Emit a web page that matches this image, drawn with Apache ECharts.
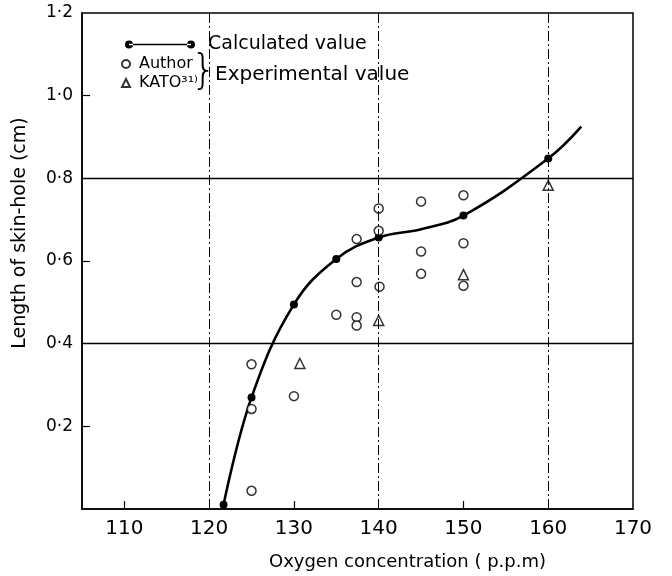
<!DOCTYPE html>
<html><head><meta charset="utf-8">
<script src="https://cdn.jsdelivr.net/npm/echarts@6/dist/echarts.min.js"></script>
<style>html,body{margin:0;padding:0;background:#fff}#c{width:672px;height:576px}</style>
</head><body><div id="c"></div>
<script>
// Calculated value (filled dots on curve)
const calcPoints = [[121.7,0.01],[125,0.27],[130,0.495],[135,0.605],[140,0.657],[150,0.71],[160,0.848]];
// Extra points (no marker)
const curveTrace = [[145,0.677],[163.9,0.925]];
// Experimental: Author (open circles)
const authorPoints = [[125,0.35],[125,0.242],[125,0.044],[130,0.273],[135,0.47],
  [137.4,0.653],[137.4,0.549],[137.4,0.464],[137.4,0.444],
  [140,0.727],[140,0.673],[140.1,0.538],
  [145,0.744],[145,0.623],[145,0.569],
  [150,0.759],[150,0.643],[150,0.54]];
// Experimental: KATO (open triangles)
const katoPoints = [[130.7,0.352],[140,0.456],[150,0.567],[160,0.783]];
// Axis ticks / labels
const xLabelValues = [110,120,130,140,150,160,170];
const xTickValues = [110,130,150];
const yLabelValues = [0.2,0.4,0.6,0.8,1.0,1.2];
const yTickValues = [0.2,0.6,1.0];
const vLines = [120,140,160];
const hLines = [0.4,0.8];

const FONT = 'DejaVu Sans';
const curveData = calcPoints.map(p => ({value:p}))
  .concat(curveTrace.map(p => ({value:p, symbol:'none'})))
  .sort((a,b)=>a.value[0]-b.value[0]);

const dumbbell = 'path://M0,4a4,4 0 1,0 8,0a4,4 0 1,0 -8,0z M4,3.2h62v1.6h-62z M62,4a4,4 0 1,0 8,0a4,4 0 1,0 -8,0z';

const chart = echarts.init(document.getElementById('c'));
chart.setOption({
  animation:false,
  backgroundColor:'#fff',
  textStyle:{fontFamily:FONT,color:'#000'},
  grid:{left:82,right:39,top:13,bottom:65,show:true,borderColor:'#000',borderWidth:1.5},
  legend:[
    {data:[{name:'Calculated value',icon:dumbbell}],left:120,top:30,itemWidth:70,itemHeight:8,itemGap:10,
     textStyle:{fontFamily:FONT,fontSize:19,color:'#000',padding:[0,0,0,8]}},
    {data:[{name:'Author',icon:'circle'},{name:'KATO³¹⁾',icon:'triangle'}],orient:'vertical',left:116,top:51,
     itemWidth:8,itemHeight:8,itemGap:3,
     textStyle:{fontFamily:FONT,fontSize:16,color:'#000',padding:[0,0,0,4]}},
  ],
  graphic:[
    {type:'text',left:191,top:53,style:{text:'}',font:'200 40px "DejaVu Sans"',fill:'#000'}},
    {type:'text',left:215,top:65,style:{text:'Experimental value',font:'20px "DejaVu Sans"',fill:'#000'}}
  ],
  xAxis:{type:'value',min:105,max:170,
    name:'Oxygen concentration ( p.p.m)',nameLocation:'middle',nameGap:44,
    nameTextStyle:{fontFamily:FONT,fontSize:18,color:'#000',padding:[0,0,0,100]},
    axisLine:{lineStyle:{color:'#000',width:1.5}},
    axisTick:{inside:true,length:8,customValues:xTickValues,lineStyle:{color:'#000',width:1.2}},
    axisLabel:{customValues:xLabelValues,fontFamily:FONT,fontSize:20,color:'#000',margin:10},
    splitLine:{show:false}},
  yAxis:{type:'value',min:0,max:1.2,
    name:'Length of skin-hole (cm)',nameLocation:'middle',nameGap:52,
    nameTextStyle:{fontFamily:FONT,fontSize:19,color:'#000',padding:[0,0,0,56]},
    axisLine:{lineStyle:{color:'#000',width:1.5}},
    axisTick:{inside:true,length:8,customValues:yTickValues,lineStyle:{color:'#000',width:1.2}},
    axisLabel:{customValues:yLabelValues,fontFamily:FONT,fontSize:17,color:'#000',margin:9,
      formatter:v=>v.toFixed(1).replace('.','·')},
    splitLine:{show:false}},
  series:[
    {name:'Calculated value',type:'line',data:curveData,smooth:0.4,
     symbol:'circle',symbolSize:8,itemStyle:{color:'#000'},lineStyle:{color:'#000',width:2.6},z:3,
     markLine:{silent:true,symbol:'none',label:{show:false},
       data:vLines.map(v=>({xAxis:v,lineStyle:{color:'#000',width:1,type:[10,3,2,3]}}))
         .concat(hLines.map(v=>({yAxis:v,lineStyle:{color:'#000',width:1.3,type:'solid'}})))}},
    {name:'Author',type:'scatter',data:authorPoints,symbol:'circle',symbolSize:9,
     itemStyle:{color:'#fff',borderColor:'#000',borderWidth:1.5},z:4},
    {name:'KATO³¹⁾',type:'scatter',data:katoPoints,symbol:'triangle',symbolSize:10,
     itemStyle:{color:'#fff',borderColor:'#000',borderWidth:1.5},z:4}
  ]
});
</script></body></html>
